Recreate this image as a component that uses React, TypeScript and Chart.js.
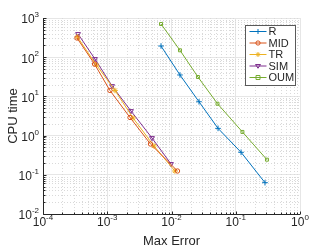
import React, { useEffect, useRef } from 'react';
import { Chart, registerables } from 'chart.js';

Chart.register(...registerables);

// ---------- data ----------
const seriesNames = ['R', 'MID', 'TR', 'SIM', 'OUM'];
const seriesColors = ['#0072BD', '#D95319', '#EDB120', '#7E2F8E', '#77AC30'];
const seriesMarkers = ['cross', 'circle', 'star', 'triangleDown', 'rect'];

const rErr = [0.00687, 0.01355, 0.0268, 0.053, 0.121, 0.285];
const rTime = [193, 35.2, 7.3, 1.53, 0.375, 0.063];

const midErr = [0.000338, 0.000634, 0.0011, 0.00226, 0.00471, 0.0124];
const midTime = [309, 67, 14.2, 2.9, 0.61, 0.125];

const trErr = [0.000344, 0.00068, 0.00132, 0.00252, 0.00534, 0.0113];
const trTime = [327, 63, 14.2, 2.81, 0.543, 0.125];

const simErr = [0.000351, 0.000644, 0.00119, 0.00234, 0.00497, 0.00982];
const simTime = [391, 90, 18.4, 4.24, 0.869, 0.189];

const oumErr = [0.00687, 0.01355, 0.0258, 0.052, 0.127, 0.306];
const oumTime = [703, 150, 31.3, 6.5, 1.24, 0.243];

const xTickValues = [1e-4, 1e-3, 1e-2, 1e-1, 1];
const xTickExps = ['-4', '-3', '-2', '-1', '0'];
const yTickValues = [1e-2, 1e-1, 1, 10, 100, 1000];
const yTickExps = ['-2', '-1', '0', '1', '2', '3'];

const xTitle = 'Max Error';
const yTitle = 'CPU time';

// ---------- style ----------
const FONT = '"Liberation Sans", Arial, Helvetica, sans-serif';
const AXIS = '#262626';
const MAJOR_GRID = '#e6e6e6';
const MINOR_GRID = '#d9d9d9';

function minorsOf(majors: number[]) {
  const out: number[] = [];
  for (let i = 0; i < majors.length - 1; i++) {
    for (let m = 2; m <= 9; m++) out.push(majors[i] * m);
  }
  return out;
}

function drawMarker(ctx: CanvasRenderingContext2D, style: string, x: number, y: number, r: number, color: string) {
  ctx.save();
  ctx.strokeStyle = color;
  ctx.lineWidth = 1;
  ctx.beginPath();
  if (style === 'cross') {
    ctx.moveTo(x - r, y); ctx.lineTo(x + r, y);
    ctx.moveTo(x, y - r); ctx.lineTo(x, y + r);
  } else if (style === 'circle') {
    ctx.arc(x, y, r * 0.85, 0, Math.PI * 2);
  } else if (style === 'star') {
    const d = r * 0.7;
    ctx.moveTo(x - r, y); ctx.lineTo(x + r, y);
    ctx.moveTo(x, y - r); ctx.lineTo(x, y + r);
    ctx.moveTo(x - d, y - d); ctx.lineTo(x + d, y + d);
    ctx.moveTo(x - d, y + d); ctx.lineTo(x + d, y - d);
  } else if (style === 'triangleDown') {
    ctx.moveTo(x - r, y - r * 0.6);
    ctx.lineTo(x + r, y - r * 0.6);
    ctx.lineTo(x, y + r * 0.9);
    ctx.closePath();
  } else if (style === 'rect') {
    ctx.rect(x - r * 0.8, y - r * 0.8, r * 1.6, r * 1.6);
  }
  ctx.stroke();
  ctx.restore();
}

const decorPlugin = {
  id: 'matlabDecor',
  beforeDatasetsDraw(chart: any) {
    const { ctx, chartArea } = chart;
    const xs = chart.scales.x;
    const ys = chart.scales.y;
    ctx.save();
    ctx.strokeStyle = MINOR_GRID;
    ctx.lineWidth = 1;
    ctx.setLineDash([1, 2]);
    ctx.beginPath();
    for (const v of minorsOf(xTickValues)) {
      const px = Math.round(xs.getPixelForValue(v)) + 0.5;
      ctx.moveTo(px, chartArea.top);
      ctx.lineTo(px, chartArea.bottom);
    }
    for (const v of minorsOf(yTickValues)) {
      const py = Math.round(ys.getPixelForValue(v)) + 0.5;
      ctx.moveTo(chartArea.left, py);
      ctx.lineTo(chartArea.right, py);
    }
    ctx.stroke();
    ctx.restore();
  },
  afterDraw(chart: any) {
    const { ctx, chartArea } = chart;
    const xs = chart.scales.x;
    const ys = chart.scales.y;
    ctx.save();

    // axis lines
    ctx.strokeStyle = AXIS;
    ctx.lineWidth = 1;
    ctx.setLineDash([]);
    ctx.beginPath();
    const axL = Math.round(chartArea.left) + 0.5;
    const axB = Math.round(chartArea.bottom) + 0.5;
    ctx.moveTo(axL, chartArea.top);
    ctx.lineTo(axL, axB);
    ctx.lineTo(chartArea.right, axB);
    // inward ticks
    for (const v of xTickValues) {
      const px = Math.round(xs.getPixelForValue(v)) + 0.5;
      ctx.moveTo(px, axB); ctx.lineTo(px, axB - 3);
    }
    for (const v of minorsOf(xTickValues)) {
      const px = Math.round(xs.getPixelForValue(v)) + 0.5;
      ctx.moveTo(px, axB); ctx.lineTo(px, axB - 2);
    }
    for (const v of yTickValues) {
      const py = Math.round(ys.getPixelForValue(v)) + 0.5;
      ctx.moveTo(axL, py); ctx.lineTo(axL + 3, py);
    }
    for (const v of minorsOf(yTickValues)) {
      const py = Math.round(ys.getPixelForValue(v)) + 0.5;
      ctx.moveTo(axL, py); ctx.lineTo(axL + 2, py);
    }
    ctx.stroke();

    // tick labels
    ctx.fillStyle = AXIS;
    ctx.textBaseline = 'alphabetic';
    ctx.textAlign = 'left';
    const baseFont = `12px ${FONT}`;
    const expFont = `8px ${FONT}`;
    xTickValues.forEach((v, i) => {
      const px = xs.getPixelForValue(v);
      ctx.font = baseFont;
      const wb = ctx.measureText('10').width;
      ctx.font = expFont;
      const we = ctx.measureText(xTickExps[i]).width;
      const start = px - (wb + we) / 2;
      const base = chartArea.bottom + 11.5;
      ctx.font = baseFont;
      ctx.fillText('10', start, base);
      ctx.font = expFont;
      ctx.fillText(xTickExps[i], start + wb, base - 5.5);
    });
    yTickValues.forEach((v, i) => {
      const py = ys.getPixelForValue(v);
      ctx.font = baseFont;
      const wb = ctx.measureText('10').width;
      ctx.font = expFont;
      const we = ctx.measureText(yTickExps[i]).width;
      const right = chartArea.left - 4;
      const base = py + 5.3;
      ctx.font = baseFont;
      ctx.fillText('10', right - we - wb, base);
      ctx.font = expFont;
      ctx.fillText(yTickExps[i], right - we, base - 6.3);
    });

    // axis titles
    ctx.font = `13px ${FONT}`;
    ctx.textAlign = 'center';
    ctx.fillText(xTitle, (chartArea.left + chartArea.right) / 2, chartArea.bottom + 31);
    ctx.save();
    ctx.translate(17, (chartArea.top + chartArea.bottom) / 2);
    ctx.rotate(-Math.PI / 2);
    ctx.fillText(yTitle, 0, 0);
    ctx.restore();

    // legend
    const bw = 50, bh = 60;
    const bx = Math.round(chartArea.right - 5.5 - bw) + 0.5;
    const by = Math.round(chartArea.top + 6.5) + 0.5;
    ctx.fillStyle = '#ffffff';
    ctx.fillRect(bx, by, bw, bh);
    ctx.strokeStyle = '#5a5a5a';
    ctx.lineWidth = 1;
    ctx.strokeRect(bx, by, bw, bh);
    ctx.font = `11px ${FONT}`;
    ctx.textAlign = 'left';
    ctx.textBaseline = 'middle';
    seriesNames.forEach((name, i) => {
      const cy = by + 6 + i * 11.5;
      ctx.strokeStyle = seriesColors[i];
      ctx.beginPath();
      ctx.moveTo(bx + 4, cy);
      ctx.lineTo(bx + 21, cy);
      ctx.stroke();
      drawMarker(ctx, seriesMarkers[i], bx + 12.5, cy, 2.5, seriesColors[i]);
      ctx.fillStyle = AXIS;
      ctx.fillText(name, bx + 23, cy + 0.5);
    });

    ctx.restore();
  },
};

function pts(xs: number[], ys: number[]) {
  return xs.map((x, i) => ({ x, y: ys[i] }));
}

const pointStyleMap: Record<string, any> = {
  cross: 'cross',
  circle: 'circle',
  star: 'star',
  triangleDown: 'triangle',
  rect: 'rect',
};

export default function App() {
  const ref = useRef<HTMLCanvasElement | null>(null);
  useEffect(() => {
    if (!ref.current) return;
    const dataSets = [
      pts(rErr, rTime),
      pts(midErr, midTime),
      pts(trErr, trTime),
      pts(simErr, simTime),
      pts(oumErr, oumTime),
    ];
    const chart = new Chart(ref.current, {
      type: 'scatter',
      data: {
        datasets: dataSets.map((d, i) => ({
          label: seriesNames[i],
          data: d,
          showLine: true,
          borderColor: seriesColors[i],
          backgroundColor: 'rgba(0,0,0,0)',
          borderWidth: 1,
          pointStyle: pointStyleMap[seriesMarkers[i]],
          pointRotation: seriesMarkers[i] === 'triangleDown' ? 180 : 0,
          pointRadius: seriesMarkers[i] === 'circle' ? 2.2 : seriesMarkers[i] === 'rect' ? 2.1 : 2.8,
          pointBorderColor: seriesColors[i],
          pointBackgroundColor: 'rgba(0,0,0,0)',
          pointBorderWidth: 1,
          tension: 0,
        })),
      },
      options: {
        animation: false,
        responsive: false,
        devicePixelRatio: 1,
        layout: { padding: { top: 18, right: 32, left: 0, bottom: 0 } },
        plugins: { legend: { display: false }, tooltip: { enabled: false } },
        scales: {
          x: {
            type: 'logarithmic',
            min: xTickValues[0],
            max: xTickValues[xTickValues.length - 1],
            afterBuildTicks: (s: any) => { s.ticks = xTickValues.map((v) => ({ value: v })); },
            afterFit: (s: any) => { s.height = 35; },
            ticks: { display: false },
            grid: { color: MAJOR_GRID, lineWidth: 1, drawTicks: false },
            border: { display: false },
          },
          y: {
            type: 'logarithmic',
            min: yTickValues[0],
            max: yTickValues[yTickValues.length - 1],
            afterBuildTicks: (s: any) => { s.ticks = yTickValues.map((v) => ({ value: v })); },
            afterFit: (s: any) => { s.width = 43; },
            ticks: { display: false },
            grid: { color: MAJOR_GRID, lineWidth: 1, drawTicks: false },
            border: { display: false },
          },
        },
      } as any,
      plugins: [decorPlugin],
    });
    return () => chart.destroy();
  }, []);
  return (
    <div style={{ position: 'fixed', left: 0, top: 0, width: 332, height: 249, background: '#fff' }}>
      <canvas ref={ref} width={332} height={249} />
    </div>
  );
}
